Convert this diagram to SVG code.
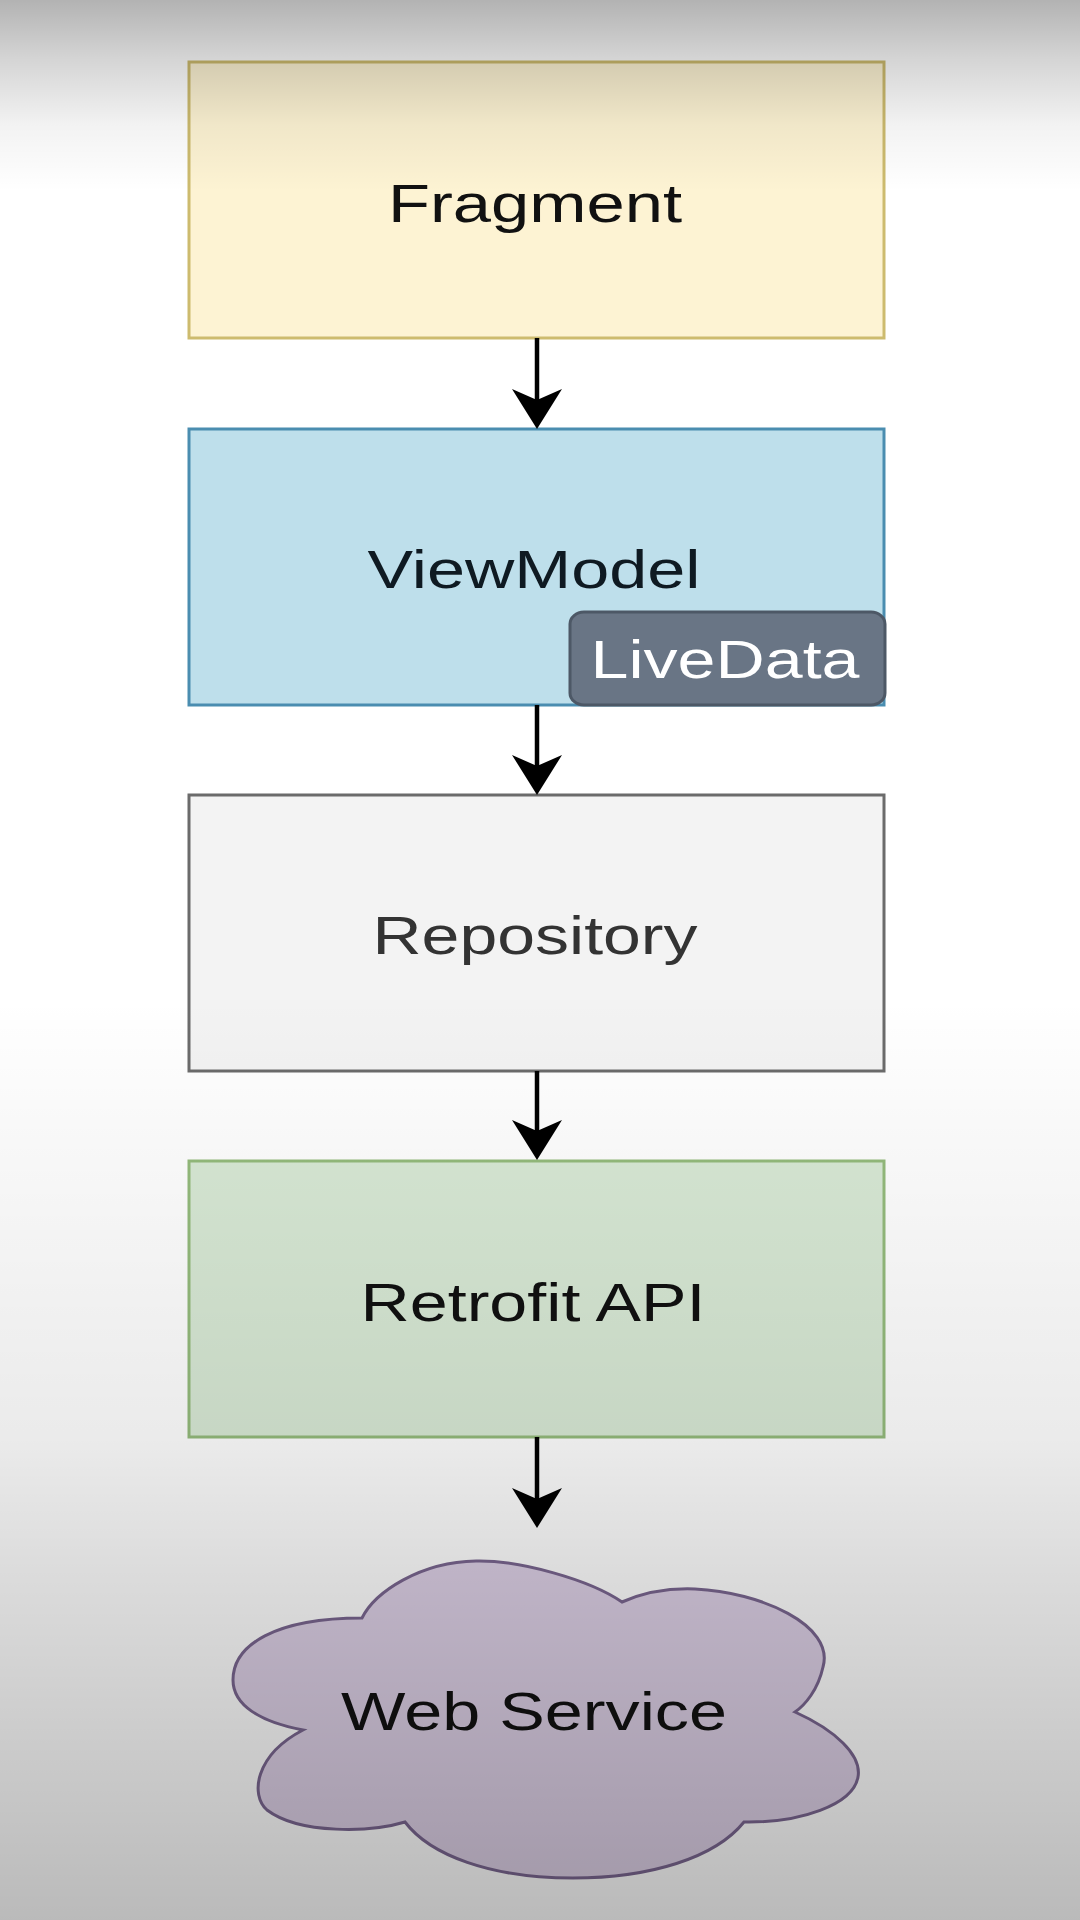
<svg xmlns="http://www.w3.org/2000/svg" width="1080" height="1920" viewBox="0 0 1080 1920">
  <defs>
    <!-- soft darkening towards the top and bottom edges -->
    <linearGradient id="shade" x1="0" y1="0" x2="0" y2="1">
      <stop offset="0" stop-color="#000" stop-opacity="0.30"/>
      <stop offset="0.03" stop-color="#000" stop-opacity="0.17"/>
      <stop offset="0.065" stop-color="#000" stop-opacity="0.05"/>
      <stop offset="0.1" stop-color="#000" stop-opacity="0"/>
      <stop offset="0.52" stop-color="#000" stop-opacity="0"/>
      <stop offset="0.6" stop-color="#000" stop-opacity="0.03"/>
      <stop offset="0.75" stop-color="#000" stop-opacity="0.08"/>
      <stop offset="0.82" stop-color="#000" stop-opacity="0.14"/>
      <stop offset="1" stop-color="#000" stop-opacity="0.27"/>
    </linearGradient>
    <marker id="arrow" viewBox="-42 -27 44 54" refX="-29" refY="0" markerWidth="44" markerHeight="54" markerUnits="userSpaceOnUse" orient="auto">
      <path d="M0,0 L-40,-25 L-29,0 L-40,25 Z" fill="#000"/>
    </marker>
  </defs>
  <style>
    .box { stroke-width: 3; }
    .label { font-family: "Liberation Sans", Arial, sans-serif; font-size: 54px; text-anchor: middle; }
    .edge { stroke: #000; stroke-width: 4.5; fill: none; marker-end: url(#arrow); }
  </style>

  <rect x="0" y="0" width="1080" height="1920" fill="#ffffff"/>

  <g id="fragment">
    <rect class="box" x="189" y="62" width="695" height="276" fill="#fdf3d3" stroke="#cdbb6e"/>
    <text class="label" x="535" y="222" fill="#111" textLength="294" lengthAdjust="spacingAndGlyphs">Fragment</text>
  </g>

  <g id="viewmodel">
    <rect class="box" x="189" y="429" width="695" height="276" fill="#bedfeb" stroke="#4a8db0"/>
    <text class="label" x="534" y="588" fill="#0f1a22" textLength="333" lengthAdjust="spacingAndGlyphs">ViewModel</text>
  </g>

  <g id="livedata">
    <rect x="570" y="612" width="315" height="93" rx="14" ry="12" fill="#697585" stroke="#4d5866" stroke-width="3"/>
    <text class="label" x="725" y="678" font-size="56" fill="#ffffff" textLength="269" lengthAdjust="spacingAndGlyphs">LiveData</text>
  </g>

  <g id="repository">
    <rect class="box" x="189" y="795" width="695" height="276" fill="#f3f3f3" stroke="#6b6b6b"/>
    <text class="label" x="535" y="954" fill="#333333" textLength="325" lengthAdjust="spacingAndGlyphs">Repository</text>
  </g>

  <g id="retrofit-api">
    <rect class="box" x="189" y="1161" width="695" height="276" fill="#d8e9d5" stroke="#94bb7c"/>
    <text class="label" x="533" y="1321" fill="#111" textLength="345" lengthAdjust="spacingAndGlyphs">Retrofit API</text>
  </g>

  <g id="web-service">
    <path d="M362,1618 C375,1592 420,1562 476,1561 C520,1560 590,1580 622,1602 C645,1592 670,1588 695,1589 C760,1592 835,1625 823,1667 C818,1690 805,1705 795,1712 C835,1730 862,1755 858,1777 C853,1805 800,1823 744,1822 C715,1858 650,1878 573,1878 C490,1878 430,1855 405,1822 C372,1832 300,1835 267,1810 C250,1795 255,1755 303,1730 C260,1722 233,1705 233,1680 C233,1645 275,1618 362,1618 Z" fill="#ddd0e6" stroke="#7a6690" stroke-width="3"/>
    <text class="label" x="534" y="1730" font-size="51" fill="#111" textLength="386" lengthAdjust="spacingAndGlyphs">Web Service</text>
  </g>

  <g id="connectors">
    <path class="edge" d="M537,338 L537,400"/>
    <path class="edge" d="M537,705 L537,766"/>
    <path class="edge" d="M537,1071 L537,1131"/>
    <path class="edge" d="M537,1437 L537,1499"/>
  </g>

  <rect x="0" y="0" width="1080" height="1920" fill="url(#shade)" pointer-events="none"/>
</svg>
